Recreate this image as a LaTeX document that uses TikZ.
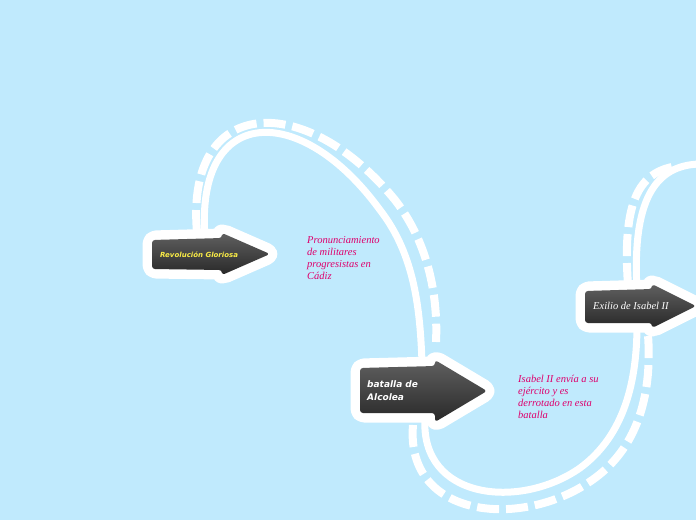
\documentclass[tikz,border=0pt]{standalone}
\usepackage{fontspec}
\setmainfont{Liberation Serif}
\newfontfamily\arrowsans{DejaVu Sans}
\definecolor{bg}{RGB}{192,234,253}
\definecolor{pinktxt}{RGB}{222,0,108}
\definecolor{yel}{RGB}{250,236,70}
\definecolor{gtop}{RGB}{96,96,96}
\definecolor{gbot}{RGB}{40,40,40}
\tikzset{
  solidlink/.style={white, line width=7pt, line cap=round},
  dashlink/.style={white, line width=8pt, dash pattern=on 22pt off 7pt},
  arrowhalo/.style={draw=white, line width=19pt, line join=round, rounded corners=4pt},
  arrowbody/.style={top color=gtop, bottom color=gbot, rounded corners=3pt},
  pinklabel/.style={text=pinktxt, font=\itshape\fontsize{10.5}{12}\selectfont, align=left, anchor=north west, inner sep=0pt},
}
\begin{document}
\begin{tikzpicture}[x=1pt,y=-1pt]
\fill[bg] (0,0) rectangle (696,520);
\useasboundingbox (0,0) rectangle (696,520);

% connector end points
\coordinate (c1s) at (205,237);
\coordinate (c1e) at (422,362);
\coordinate (d1s) at (197,232);
\coordinate (d1e) at (436,342);
\coordinate (c2s) at (425,418);
\coordinate (c2e) at (637,325);
\coordinate (d2s) at (413,425);
\coordinate (d2e) at (648,335);
\coordinate (c3s) at (637,290);
\coordinate (c3e) at (700,164);
\coordinate (d3s) at (628,285);
\coordinate (d3e) at (672,167);

% curves
\draw[dashlink] (d1s) .. controls (185,95) and (305,90) .. (395,200) .. controls (430,245) and (438,300) .. (d1e);
\draw[solidlink] (c1s) .. controls (195,105) and (300,100) .. (380,210) .. controls (415,255) and (420,310) .. (c1e);
\draw[dashlink] (d2s) .. controls (405,520) and (525,530) .. (595,478) .. controls (640,445) and (652,390) .. (d2e);
\draw[solidlink] (c2s) .. controls (420,500) and (520,510) .. (580,468) .. controls (625,435) and (637,380) .. (c2e);
\draw[dashlink] (d3s) .. controls (622,200) and (640,174) .. (d3e);
\draw[solidlink] (c3s) .. controls (632,200) and (655,165) .. (c3e);

% arrows
\path[arrowhalo] (152,240) -- (222,238) -- (222,233) -- (270,254) -- (222,275) -- (222,270) -- (152,269) -- cycle;
\path[arrowbody] (152,240) -- (222,238) -- (222,233) -- (270,254) -- (222,275) -- (222,270) -- (152,269) -- cycle;
\path[arrowhalo] (360,368) -- (435,366) -- (435,360) -- (487,391) -- (435,422) -- (435,413) -- (360,413) -- cycle;
\path[arrowbody] (360,368) -- (435,366) -- (435,360) -- (487,391) -- (435,422) -- (435,413) -- (360,413) -- cycle;
\path[arrowhalo] (585,291) -- (652,289) -- (652,284) -- (696,306) -- (652,328) -- (652,323) -- (585,323) -- cycle;
\path[arrowbody] (585,291) -- (652,289) -- (652,284) -- (696,306) -- (652,328) -- (652,323) -- (585,323) -- cycle;

% texts
\node[text=yel, font=\arrowsans\bfseries\itshape\fontsize{7}{8}\selectfont, anchor=west, inner sep=0pt] (t1) at (160,255) {Revolución Gloriosa};
\node[text=white, font=\arrowsans\bfseries\itshape\fontsize{9}{13}\selectfont, anchor=west, align=left, inner sep=0pt] (t2) at (367,391) {batalla de\\Alcolea};
\node[text=white, font=\itshape\fontsize{10.5}{12}\selectfont, anchor=west, inner sep=0pt] (t3) at (593,306) {Exilio de Isabel II};
\node[pinklabel] (p1) at (307,236) {Pronunciamiento\\de militares\\progresistas en\\Cádiz};
\node[pinklabel] (p2) at (518,375) {Isabel II envía a su\\ejército y es\\derrotado en esta\\batalla};
\end{tikzpicture}
\end{document}
